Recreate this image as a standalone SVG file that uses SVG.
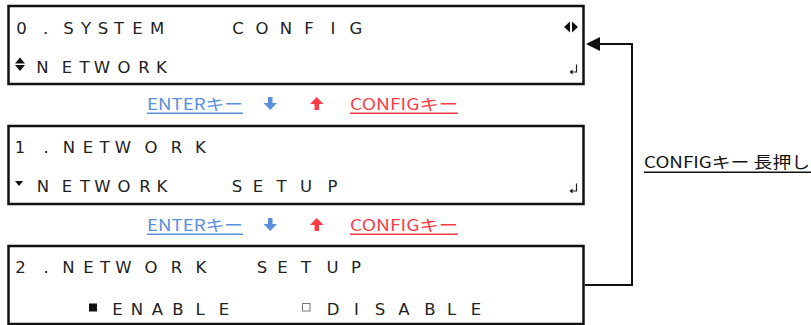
<svg xmlns="http://www.w3.org/2000/svg" width="811" height="325" viewBox="0 0 811 325">
<style>
.box{fill:#fff;stroke:#111;stroke-width:2.5}
.lcd{font-family:"DejaVu Sans","Liberation Sans",sans-serif;font-size:16.5px;fill:#222;text-anchor:middle}
.lbl{font-family:"Noto Sans CJK JP","Noto Sans",sans-serif;font-size:16px}
.blue{fill:#5b8fde}
.red{fill:#ff3b47}
.ico{fill:#111}
.ret{fill:none;stroke:#222;stroke-width:1.2}
.conn{fill:none;stroke:#111;stroke-width:2}
</style>
<defs>
<path id="ret" d="M576.5,0 V7.5 H571.5"/>
</defs>
<g id="screen0">
<rect class="box" x="8.5" y="6" width="575" height="78"/>
<text class="lcd" x="21.5 45.5 68.5 86 103 119 137.5 157 197 238 262 286 309 333 356" y="34">0.SYSTEM CONFIG</text>
<polygon class="ico" points="15,63.5 20,57.5 25,63.5"/>
<polygon class="ico" points="15,65 25,65 20,71"/>
<text class="lcd" x="42.5 67 84.5 102 124 144 161.5" y="73">NETWORK</text>
<polygon class="ico" points="564,27 570,21.5 570,32.5"/>
<polygon class="ico" points="572,21.5 578,27 572,32.5"/>
<g transform="translate(0,64.5)"><use href="#ret" class="ret"/><polygon class="ico" points="569.5,7.5 572.5,5 572.5,10"/></g>
</g>
<g id="keys1">
<text class="lbl blue" x="147" y="110" textLength="96" lengthAdjust="spacingAndGlyphs">ENTERキー</text>
<rect class="blue" x="147" y="112.5" width="96" height="1.5"/>
<path class="blue" d="M268,97 h4.5 v6 h4.5 l-6.75,7 l-6.75,-7 h4.5 z"/>
<path class="red" d="M314.5,110 v-6 h-4.5 l6.75,-7 l6.75,7 h-4.5 v6 z"/>
<text class="lbl red" x="350" y="110" textLength="108" lengthAdjust="spacingAndGlyphs">CONFIGキー</text>
<rect class="red" x="350" y="112.5" width="108" height="1.5"/>
</g>
<g id="screen1">
<rect class="box" x="8.5" y="126" width="575" height="78"/>
<text class="lcd" x="20 46 69 88 104.5 123 151 176.5 200.5" y="153">1.NETWORK</text>
<polygon class="ico" points="15,181 23,181 19,186"/>
<text class="lcd" x="43 67 85 102.5 124 145 162 200 237 258 281.5 306 332.5" y="192">NETWORK SETUP</text>
<g transform="translate(0,183.5)"><use href="#ret" class="ret"/><polygon class="ico" points="569.5,7.5 572.5,5 572.5,10"/></g>
</g>
<g id="keys2">
<text class="lbl blue" x="147" y="231" textLength="96" lengthAdjust="spacingAndGlyphs">ENTERキー</text>
<rect class="blue" x="147" y="233.5" width="96" height="1.5"/>
<path class="blue" d="M268,218 h4.5 v6 h4.5 l-6.75,7 l-6.75,-7 h4.5 z"/>
<path class="red" d="M314.5,231 v-6 h-4.5 l6.75,-7 l6.75,7 h-4.5 v6 z"/>
<text class="lbl red" x="350" y="231" textLength="108" lengthAdjust="spacingAndGlyphs">CONFIGキー</text>
<rect class="red" x="350" y="233.5" width="108" height="1.5"/>
</g>
<g id="screen2">
<rect class="box" x="8.5" y="246" width="575" height="78"/>
<text class="lcd" x="20.5 46 68.5 88.5 105 123.5 151 176.5 201 230 262 282.5 306 332.5 356" y="273">2.NETWORK SETUP</text>
<rect x="89" y="303.5" width="8" height="8" fill="#111"/>
<text class="lcd" x="117.5 137 157.5 178 200 224" y="315">ENABLE</text>
<rect x="302.5" y="303.5" width="7.5" height="7.5" fill="none" stroke="#777" stroke-width="1"/>
<text class="lcd" x="333 356.5 380 404 430 451.5 476" y="315">DISABLE</text>
</g>
<g id="connectors">
<path class="conn" d="M585,285 H632 V44 H599"/>
<polygon points="586,44 600,37 600,51" fill="#111"/>
<text class="lbl" x="644" y="168" fill="#111" textLength="166" lengthAdjust="spacingAndGlyphs">CONFIGキー 長押し</text>
<rect x="644" y="171.5" width="167" height="1.5" fill="#111"/>
</g>
</svg>
